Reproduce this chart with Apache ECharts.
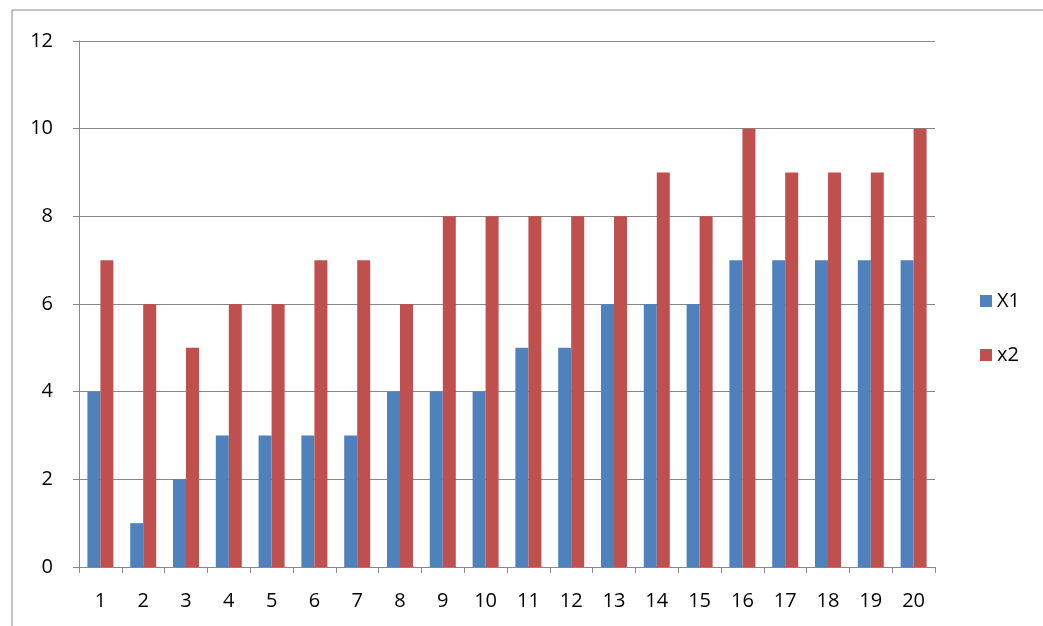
<!DOCTYPE html>
<html><head><meta charset="utf-8">
<script src="https://cdn.jsdelivr.net/npm/echarts@6/dist/echarts.min.js"></script>
<style>html,body{margin:0;padding:0;background:#fff}#c{width:1043px;height:626px}</style>
</head><body><div id="c"></div>
<script>
const categories = ['1','2','3','4','5','6','7','8','9','10','11','12','13','14','15','16','17','18','19','20'];
const x1 = [4,1,2,3,3,3,3,4,4,4,5,5,6,6,6,7,7,7,7,7];
const x2 = [7,6,5,6,6,7,7,6,8,8,8,8,8,9,8,10,9,9,9,10];
const chart = echarts.init(document.getElementById('c'));
chart.setOption({
  animation:false,
  graphic:[{type:'rect',shape:{x:12,y:10,width:1040,height:630},style:{fill:'none',stroke:'#888',lineWidth:1}}],
  grid:{left:79,right:108,top:41,bottom:59},
  legend:{orient:'vertical',left:975,top:286,itemWidth:12,itemHeight:12,itemGap:34,icon:'rect',
    textStyle:{fontFamily:'Open Sans',fontSize:20,color:'#000'}},
  xAxis:{type:'category',data:categories,
    axisLine:{lineStyle:{color:'#888'}},axisTick:{show:true,lineStyle:{color:'#888'},length:6},
    axisLabel:{fontFamily:'Open Sans',fontSize:20,color:'#000',margin:24}},
  yAxis:{type:'value',min:0,max:12,interval:2,
    axisLine:{show:true,lineStyle:{color:'#888'}},axisTick:{show:true,length:6,lineStyle:{color:'#888'}},
    splitLine:{lineStyle:{color:'#888'}},
    axisLabel:{fontFamily:'Open Sans',fontSize:20,color:'#000',margin:26}},
  series:[
    {name:'X1',type:'bar',data:x1,barWidth:13,barGap:'0%',itemStyle:{color:'#4f81bd'}},
    {name:'x2',type:'bar',data:x2,barWidth:13,itemStyle:{color:'#c0504d'}}
  ]
});
</script></body></html>
